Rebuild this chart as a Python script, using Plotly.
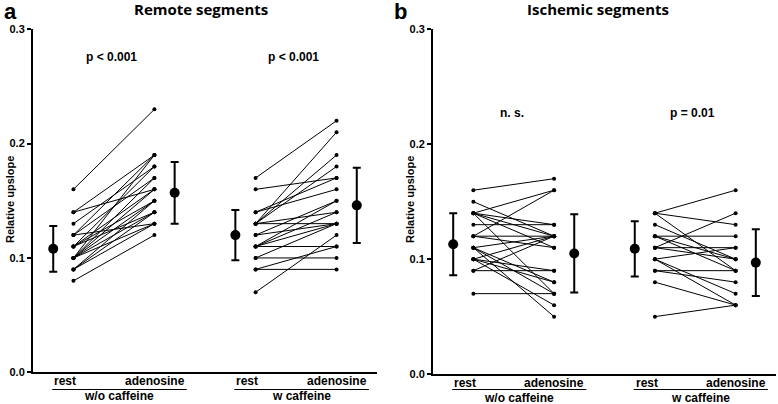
import plotly.graph_objects as go

# ---------------- data ----------------
# Panel a: Remote segments
a_wo_rest = [0.16, 0.14, 0.14, 0.13, 0.12, 0.12, 0.11, 0.11, 0.11, 0.10, 0.10,
             0.10, 0.10, 0.10, 0.10, 0.09, 0.09, 0.09, 0.08, 0.11, 0.12]
a_wo_aden = [0.23, 0.19, 0.16, 0.18, 0.19, 0.17, 0.18, 0.16, 0.15, 0.19, 0.17,
             0.15, 0.14, 0.13, 0.16, 0.14, 0.13, 0.15, 0.12, 0.14, 0.13]
a_w_rest = [0.17, 0.16, 0.14, 0.14, 0.13, 0.13, 0.13, 0.13, 0.13, 0.12,
            0.11, 0.11, 0.11, 0.11, 0.10, 0.10, 0.09, 0.09, 0.07, 0.12]
a_w_aden = [0.22, 0.17, 0.17, 0.16, 0.21, 0.19, 0.18, 0.14, 0.13, 0.15,
            0.15, 0.14, 0.13, 0.11, 0.13, 0.10, 0.11, 0.09, 0.12, 0.13]
# Panel b: Ischemic segments
b_wo_rest = [0.16, 0.15, 0.14, 0.14, 0.14, 0.14, 0.14, 0.13, 0.12, 0.12, 0.11,
             0.11, 0.11, 0.10, 0.10, 0.09, 0.09, 0.07, 0.11, 0.10, 0.12, 0.10]
b_wo_aden = [0.17, 0.12, 0.16, 0.13, 0.12, 0.11, 0.07, 0.13, 0.16, 0.12, 0.08,
             0.07, 0.12, 0.12, 0.08, 0.09, 0.12, 0.07, 0.05, 0.06, 0.11, 0.09]
b_w_rest = [0.14, 0.14, 0.14, 0.13, 0.12, 0.12, 0.11, 0.11, 0.11, 0.10, 0.10,
            0.10, 0.09, 0.09, 0.08, 0.05, 0.12]
b_w_aden = [0.16, 0.13, 0.09, 0.10, 0.12, 0.10, 0.14, 0.11, 0.10, 0.11, 0.07,
            0.06, 0.09, 0.08, 0.06, 0.06, 0.09]

# mean and SD summaries: [wo rest, wo adenosine, w rest, w adenosine]
a_mean = [0.108, 0.157, 0.120, 0.146]
a_sd = [0.020, 0.027, 0.022, 0.033]
b_mean = [0.113, 0.105, 0.109, 0.097]
b_sd = [0.027, 0.034, 0.024, 0.029]

conditions = ["rest", "adenosine"]
groups = ["w/o caffeine", "w caffeine"]
panel_titles = ["Remote segments", "Ischemic segments"]
panel_letters = ["a", "b"]
p_labels_a = ["p < 0.001", "p < 0.001"]
p_labels_b = ["n. s.", "p = 0.01"]
y_ticks = [0.0, 0.1, 0.2, 0.3]

# category slot positions on the x axis (units)
pos_rest_mean = [1, 10]
pos_rest = [2, 11]
pos_aden = [6, 15]
pos_aden_mean = [7, 16]

BOLD = "Liberation Sans"
fig = go.Figure()


def paired(rest, aden, xr, xa, xref, yref):
    xs, ys = [], []
    for r, a in zip(rest, aden):
        xs += [xr, xa, None]
        ys += [r, a, None]
    fig.add_trace(go.Scatter(x=xs, y=ys, mode="lines+markers",
                             line=dict(color="black", width=1),
                             marker=dict(color="black", size=4),
                             xaxis=xref, yaxis=yref, showlegend=False,
                             cliponaxis=False, hoverinfo="skip"))


def summary(means, sds, xref, yref):
    xs = [pos_rest_mean[0], pos_aden_mean[0], pos_rest_mean[1], pos_aden_mean[1]]
    fig.add_trace(go.Scatter(x=xs, y=means, mode="markers",
                             marker=dict(color="black", size=10),
                             error_y=dict(type="data", array=sds, visible=True,
                                          color="black", thickness=2, width=4),
                             xaxis=xref, yaxis=yref, showlegend=False,
                             cliponaxis=False))


paired(a_wo_rest, a_wo_aden, pos_rest[0], pos_aden[0], "x", "y")
paired(a_w_rest, a_w_aden, pos_rest[1], pos_aden[1], "x", "y")
summary(a_mean, a_sd, "x", "y")
paired(b_wo_rest, b_wo_aden, pos_rest[0], pos_aden[0], "x2", "y2")
paired(b_w_rest, b_w_aden, pos_rest[1], pos_aden[1], "x2", "y2")
summary(b_mean, b_sd, "x2", "y2")

xax = dict(range=[0, 17], showline=True, linecolor="black", linewidth=2,
           showgrid=False, zeroline=False, showticklabels=False, ticks="",
           fixedrange=True, automargin=False)
yax = dict(range=[0, 0.3], showline=True, linecolor="black", linewidth=2,
           showgrid=False, zeroline=False, ticks="outside", ticklen=4,
           tickwidth=1.5, tickcolor="black", tickvals=y_ticks,
           ticktext=[f"<b>{v:.1f}</b>" for v in y_ticks], automargin=False,
           tickfont=dict(family=BOLD, size=11, color="black"))

fig.update_layout(
    width=778, height=404, margin=dict(l=0, r=0, t=0, b=0, autoexpand=False),
    plot_bgcolor="white", paper_bgcolor="white",
    xaxis=dict(xax, domain=[0.0424, 0.4846], anchor="y"),
    yaxis=dict(yax, domain=[0.0785, 0.9275], anchor="x"),
    xaxis2=dict(xax, domain=[0.5566, 0.9974], anchor="y2"),
    yaxis2=dict(yax, domain=[0.0740, 0.9275], anchor="x2"),
)

ann = []
lab_font = dict(family=BOLD, size=12, color="black")
for i, (xr, yr) in enumerate([("x", "y"), ("x2", "y2")]):
    for g in range(2):
        x0 = pos_rest_mean[g] - 0.05
        x1 = pos_aden_mean[g] + 0.6
        ann.append(dict(x=x0, y=0, xref=xr, yref=f"{yr} domain", yshift=-9,
                        text=f"<b>{conditions[0]}</b>", showarrow=False,
                        xanchor="left", yanchor="middle", font=lab_font))
        ann.append(dict(x=x1, y=0, xref=xr, yref=f"{yr} domain", yshift=-9,
                        text=f"<b>{conditions[1]}</b>", showarrow=False,
                        xanchor="right", yanchor="middle", font=lab_font))
        ann.append(dict(x=(x0 + x1) / 2, y=0, xref=xr, yref=f"{yr} domain",
                        yshift=-24, text=f"<b>{groups[g]}</b>", showarrow=False,
                        xanchor="center", yanchor="middle", font=lab_font))
        fig.add_shape(type="line", xref=xr, yref="paper", x0=x0, x1=x1,
                      y0=(404 - 389.5) / 404, y1=(404 - 389.5) / 404,
                      line=dict(color="black", width=1))
    plabs = p_labels_a if i == 0 else p_labels_b
    py = 0.276 if i == 0 else 0.227
    for g in range(2):
        ann.append(dict(x=3.9 + 8.95 * g, y=py, xref=xr, yref=yr,
                        text=f"<b>{plabs[g]}</b>", showarrow=False,
                        xanchor="center", yanchor="middle",
                        font=dict(family=BOLD, size=12, color="black")))
    # y axis title
    ann.append(dict(x=(10 if i == 0 else 410) / 778, y=(404 - 200) / 404,
                    xref="paper", yref="paper", text="<b>Relative upslope</b>",
                    textangle=-90, showarrow=False, xanchor="center",
                    yanchor="middle",
                    font=dict(family=BOLD, size=11, color="black")))
    # panel title
    ann.append(dict(x=(201 if i == 0 else 597.5) / 778, y=1 - 9 / 404,
                    xref="paper", yref="paper", xanchor="center",
                    text=f"<b>{panel_titles[i]}</b>", showarrow=False,
                    yanchor="middle",
                    font=dict(family="Open Sans", size=15, color="black")))
    # panel letter
    ann.append(dict(x=(2 if i == 0 else 392) / 778, y=1 - 11 / 404,
                    xref="paper", yref="paper", xanchor="left",
                    yanchor="middle",
                    text=f"<b>{panel_letters[i]}</b>", showarrow=False,
                    font=dict(family=BOLD, size=22, color="black")))

fig.update_layout(annotations=ann)
fig.write_html("out.html", config={"displayModeBar": False},
               post_script="document.body.style.margin='0';"
                           "document.body.style.padding='0';")
